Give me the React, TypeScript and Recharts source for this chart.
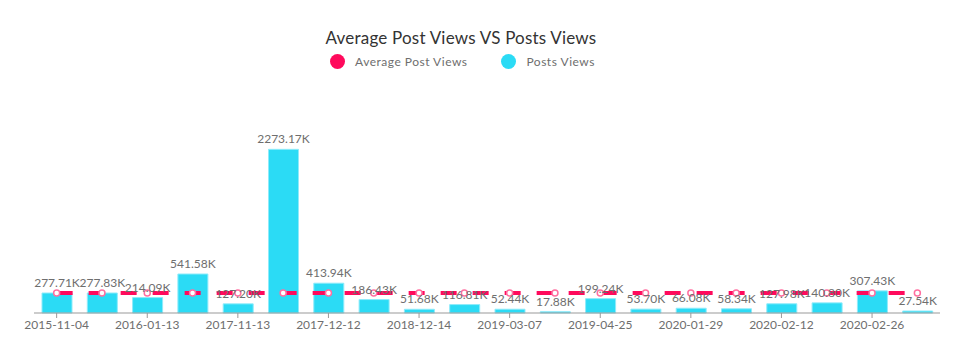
import React from "react";
import { Bar, ComposedChart, LabelList, Line, XAxis, YAxis } from "recharts";

const PINK = "#FF0A5C";
const CYAN = "#2BDBF5";
const GREY = "#6E6E6E";
const FONT = "Lato, 'Noto Sans', sans-serif";

const dates = [
  "2015-11-04", "2015-12-09", "2016-01-13", "2017-10-25", "2017-11-13",
  "2017-11-28", "2017-12-12", "2018-06-20", "2018-12-14", "2019-02-01",
  "2019-03-07", "2019-04-02", "2019-04-25", "2020-01-15", "2020-01-29",
  "2020-02-05", "2020-02-12", "2020-02-19", "2020-02-26", "2020-03-04",
];
const postViews = [
  277.71, 277.83, 214.09, 541.58, 127.2, 2273.17, 413.94, 186.43, 51.68, 116.81,
  52.44, 17.88, 199.24, 53.7, 66.08, 58.34, 127.98, 140.8, 307.43, 27.54,
];
const avgViews = [
  276.59, 276.59, 276.59, 276.59, 276.59, 276.59, 276.59, 276.59, 276.59, 276.59,
  276.59, 276.59, 276.59, 276.59, 276.59, 276.59, 276.59, 276.59, 276.59, 276.59,
];

const rows = dates.map((d, i) => ({ d, posts: postViews[i], avg: avgViews[i] }));

function LegendDot({ color, label }: { color: string; label: string }) {
  return (
    <span style={{ display: "inline-flex", alignItems: "center", marginRight: 34 }}>
      <span style={{ width: 15, height: 15, borderRadius: "50%", background: color, marginRight: 10 }} />
      <span style={{ fontSize: 12, color: GREY, letterSpacing: 0.5 }}>{label}</span>
    </span>
  );
}

export default function App() {
  return (
    <div style={{ position: "absolute", left: 0, top: 0, width: 967, height: 360, background: "#fff", fontFamily: FONT }}>
      <div style={{ position: "absolute", top: 27, left: 0, width: 922, textAlign: "center", fontSize: 17, color: "#333", letterSpacing: 0.2 }}>
        Average Post Views VS Posts Views
      </div>
      <div style={{ position: "absolute", top: 54, left: 330, display: "flex" }}>
        <LegendDot color={PINK} label="Average Post Views" />
        <LegendDot color={CYAN} label="Posts Views" />
      </div>
      <div style={{ position: "absolute", top: 0, left: 0 }}>
        <ComposedChart
          width={967}
          height={360}
          data={rows}
          margin={{ top: 97, right: 27, bottom: 17, left: 34 }}
          barSize={30}
        >
          <XAxis
            dataKey="d"
            interval={1}
            tickSize={5}
            stroke="#999"
            tick={{ fill: GREY, fontSize: 12, fontFamily: FONT }}
            height={30}
          />
          <YAxis hide domain={[0, 3000]} />
          <Bar dataKey="posts" fill={CYAN} stroke="#8EEBFA" strokeWidth={1} isAnimationActive={false}>
            <LabelList
              dataKey="posts"
              position="top"
              offset={6}
              formatter={(v: number) => `${v.toFixed(2)}K`}
              style={{ fill: GREY, fontSize: 12, fontFamily: FONT }}
            />
          </Bar>
          <Line
            dataKey="avg"
            type="linear"
            stroke={PINK}
            strokeWidth={4}
            strokeDasharray="16 16"
            dot={{ r: 3, fill: "#fff", stroke: "#FF6FA0", strokeWidth: 1.5, strokeDasharray: "" }}
            isAnimationActive={false}
          />
        </ComposedChart>
      </div>
    </div>
  );
}
